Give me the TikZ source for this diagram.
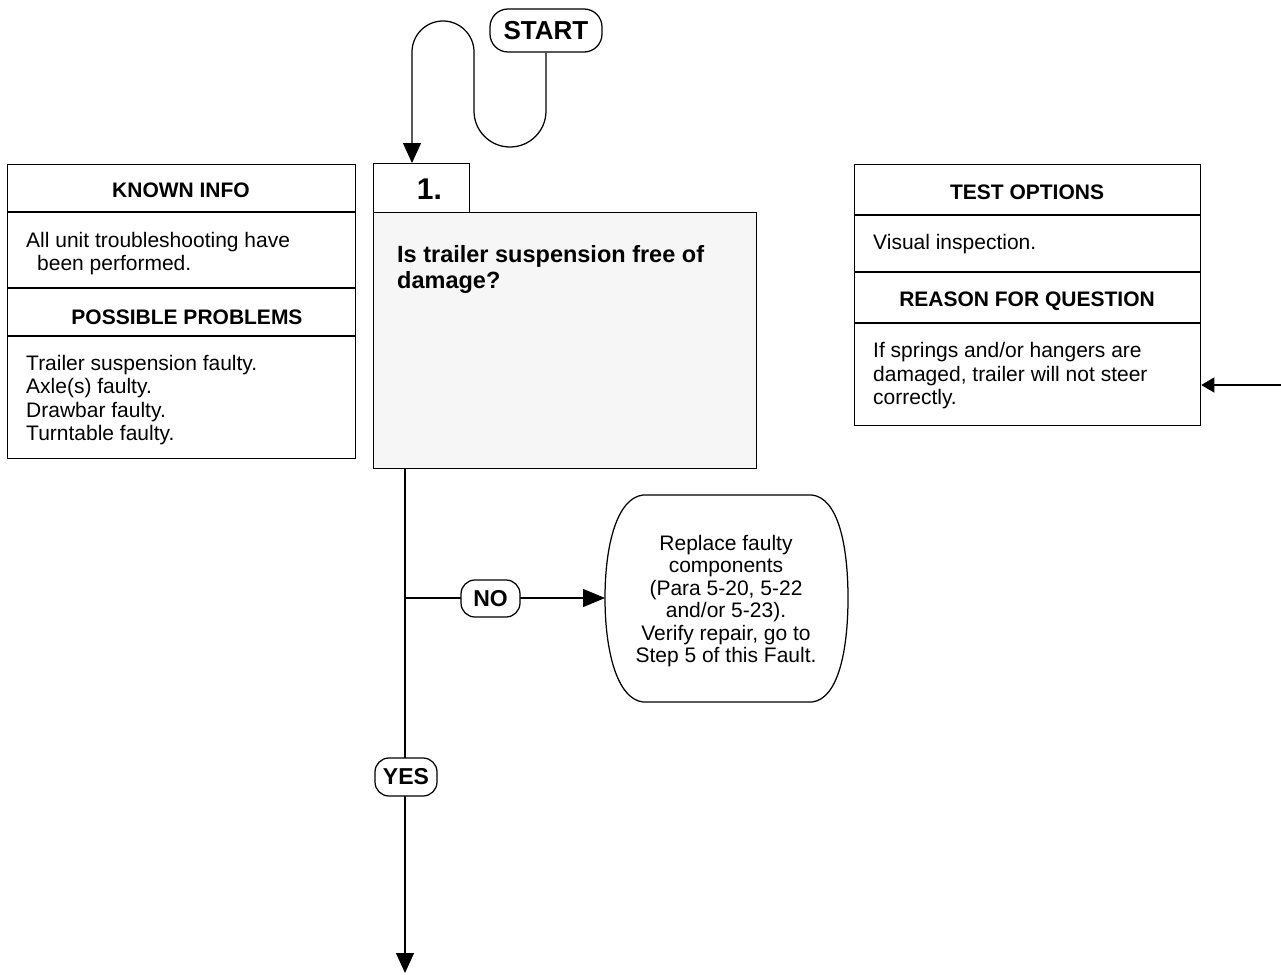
\documentclass[tikz,border=0pt]{standalone}
\usepackage{fontspec}
\setmainfont{Liberation Sans}
\usetikzlibrary{arrows.meta,calc}
\definecolor{qgray}{RGB}{246,246,246}
\tikzset{
  flow/.style={line width=1.25pt},
  frame/.style={draw, line width=1.25pt, inner sep=0pt, anchor=north west},
  bodytext/.style={font=\fontsize{21}{23.5}\selectfont, inner sep=0pt, anchor=base west},
  headtext/.style={font=\bfseries\fontsize{21}{23.5}\selectfont, inner sep=0pt, anchor=base},
  qtext/.style={font=\bfseries\fontsize{23.5}{26}\selectfont, inner sep=0pt, anchor=base west},
  pill/.style={draw, line width=1.25pt, rounded corners=14pt, fill=white, inner sep=0pt,
    font=\bfseries\fontsize{23}{25}\selectfont},
  bigtip/.style={-{Triangle[width=18pt,length=20pt]}},
}
\begin{document}
\begin{tikzpicture}[x=1pt,y=-1pt]
\useasboundingbox (0,0) rectangle (1281,974);

% KNOWN INFO box
\node[frame, minimum width=348pt, minimum height=294pt] (known) at (7,164) {};
\draw[flow] ($(known.north west)+(0,48)$) -- ($(known.north east)+(0,48)$);
\draw[flow] ($(known.north west)+(0,124)$) -- ($(known.north east)+(0,124)$);
\draw[flow] ($(known.north west)+(0,172)$) -- ($(known.north east)+(0,172)$);
\node[headtext] (kh) at (181,197) {KNOWN INFO};
\node[bodytext] (k1) at (26,247) {All unit troubleshooting have};
\node[bodytext] (k2) at (37,270) {been performed.};
\node[headtext] (ph) at (187,324) {POSSIBLE PROBLEMS};
\node[bodytext] (p1) at (26,370) {Trailer suspension faulty.};
\node[bodytext] (p2) at (26,393) {Axle(s) faulty.};
\node[bodytext] (p3) at (26,417) {Drawbar faulty.};
\node[bodytext] (p4) at (26,440) {Turntable faulty.};

% Step 1 box
\node[frame, fill=qgray, minimum width=383pt, minimum height=256pt] (q) at (373,212) {};
\node[frame, fill=white, minimum width=96pt, minimum height=49pt] (tab) at (373,163) {};
\node[font=\bfseries\fontsize{30}{32}\selectfont, inner sep=0pt, anchor=base] (tabnum) at (429.5,199) {1.};
\node[qtext] (q1) at (397,262) {Is trailer suspension free of};
\node[qtext] (q2) at (397,288) {damage?};

% TEST OPTIONS box
\node[frame, minimum width=346pt, minimum height=261pt] (test) at (854,164) {};
\draw[flow] ($(test.north west)+(0,51)$) -- ($(test.north east)+(0,51)$);
\draw[flow] ($(test.north west)+(0,108)$) -- ($(test.north east)+(0,108)$);
\draw[flow] ($(test.north west)+(0,159)$) -- ($(test.north east)+(0,159)$);
\node[headtext] (th) at (1027,199) {TEST OPTIONS};
\node[bodytext] (t1) at (873,249) {Visual inspection.};
\node[headtext] (rh) at (1027,306) {REASON FOR QUESTION};
\node[bodytext] (r1) at (873,357) {If springs and/or hangers are};
\node[bodytext] (r2) at (873,381) {damaged, trailer will not steer};
\node[bodytext] (r3) at (873,404) {correctly.};

\coordinate (rin) at (1281,385);
\draw[flow, -{Triangle[width=15pt,length=13pt]}] (rin) -- (rin -| test.east);

% START
\node[draw, line width=1.25pt, rounded corners=18pt, inner sep=0pt, minimum width=112pt,
  minimum height=43pt, font=\bfseries\fontsize{26}{28}\selectfont] (start) at (546,30.5) {START};
\coordinate (sx) at (412,52);
\draw[flow, bigtip] (start.south) -- (546,111) arc[start angle=0, end angle=-180, radius=36pt]
  -- (474,52) arc[start angle=0, end angle=180, radius=31pt] -- (sx |- tab.north);

% Replace box
\draw[flow] (643,495) -- (812,495) .. controls (838,498) and (848,545) .. (848,598)
  .. controls (848,651) and (838,699) .. (812,702) -- (643,702)
  .. controls (617,699) and (605,651) .. (605,598)
  .. controls (605,545) and (617,498) .. cycle;
\node[font=\fontsize{21}{22.4}\selectfont, align=center, inner sep=0pt] (fix) at (726,601)
  {Replace faulty\\components\\(Para 5-20, 5-22\\and/or 5-23).\\Verify repair, go to\\Step 5 of this Fault.};
\coordinate (fixW) at (605,598);

% Main flow
\coordinate (vend) at (405,973);
\coordinate (nb) at (405,598);
\draw[flow, bigtip] (q.south -| vend) -- (vend);
\draw[flow, -{Triangle[width=18pt,length=22pt]}] (nb) -- (fixW);
\node[pill, minimum width=59pt, minimum height=37pt] (no) at (490.5,598.5) {NO};
\node[pill, minimum width=62pt, minimum height=38pt] (yes) at (406,777) {YES};
\end{tikzpicture}
\end{document}
